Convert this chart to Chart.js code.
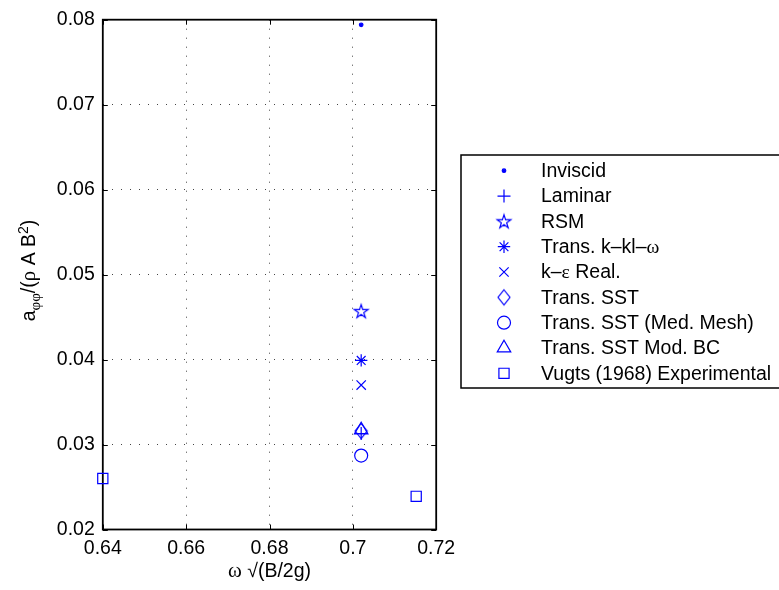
<!DOCTYPE html>
<html>
<head>
<meta charset="utf-8">
<script src="https://cdn.jsdelivr.net/npm/chart.js@4/dist/chart.umd.min.js"></script>
<style>
  html, body { margin: 0; padding: 0; background: #fff; }
  #wrap { width: 779px; height: 590px; }
</style>
</head>
<body>
<div id="wrap"><canvas id="c" width="779" height="590"></canvas></div>
<script>
// ---------------- DATA ----------------
const seriesNames = ['Inviscid', 'Laminar', 'RSM', 'Trans. k\u2013kl\u2013\u03c9', 'k\u2013\u03b5 Real.',
  'Trans. SST', 'Trans. SST (Med. Mesh)', 'Trans. SST Mod. BC', 'Vugts (1968) Experimental'];

const inviscidX = [0.702];  const inviscidY = [0.0794];
const laminarX  = [0.702];  const laminarY  = [0.0313];
const rsmX      = [0.702];  const rsmY      = [0.0457];
const kklwX     = [0.702];  const kklwY     = [0.0399];
const kepsX     = [0.702];  const kepsY     = [0.0370];
const sstX      = [0.702];  const sstY      = [0.0316];
const sstMedX   = [0.702];  const sstMedY   = [0.0287];
const sstModX   = [0.702];  const sstModY   = [0.0317];
const vugtsX    = [0.640, 0.7152]; const vugtsY = [0.0260, 0.0239];

const xTickValues = [0.64, 0.66, 0.68, 0.70, 0.72];
const xTickLabels = ['0.64', '0.66', '0.68', '0.7', '0.72'];
const yTickValues = [0.02, 0.03, 0.04, 0.05, 0.06, 0.07, 0.08];
const yTickLabels = ['0.02', '0.03', '0.04', '0.05', '0.06', '0.07', '0.08'];

// ---------------- STYLE ----------------
const BLUE = '#0000ff';
const FONT = "'Liberation Sans', Arial, sans-serif";
const SERIF = "'Liberation Serif', 'DejaVu Serif', serif";
const FS = 19.5;

function makeStar() {
  const c = document.createElement('canvas'); c.width = 18; c.height = 18;
  const g = c.getContext('2d');
  const cx = 9, cy = 9.6, R = 7.2, r = R * 0.382;
  g.beginPath();
  for (let i = 0; i < 10; i++) {
    const ang = -Math.PI / 2 + i * Math.PI / 5;
    const rr = i % 2 === 0 ? R : r;
    const px = cx + rr * Math.cos(ang), py = cy + rr * Math.sin(ang);
    i === 0 ? g.moveTo(px, py) : g.lineTo(px, py);
  }
  g.closePath(); g.strokeStyle = BLUE; g.lineWidth = 1.2; g.stroke();
  return c;
}
function makeDiamond() {
  const c = document.createElement('canvas'); c.width = 16; c.height = 20;
  const g = c.getContext('2d');
  g.beginPath();
  g.moveTo(8, 2.5); g.lineTo(14, 10); g.lineTo(8, 17.5); g.lineTo(2, 10); g.closePath();
  g.strokeStyle = BLUE; g.lineWidth = 1.2; g.stroke();
  return c;
}
const starImg = makeStar();
const diamondImg = makeDiamond();

function pts(xs, ys) { return xs.map((x, i) => ({ x: x, y: ys[i] })); }

const markerStyles = [
  { pointStyle: 'circle',   radius: 1.8, fill: BLUE },
  { pointStyle: 'cross',    radius: 6.5, fill: 'rgba(0,0,0,0)' },
  { pointStyle: starImg,    radius: 7,   fill: 'rgba(0,0,0,0)' },
  { pointStyle: 'star',     radius: 6.2, fill: 'rgba(0,0,0,0)' },
  { pointStyle: 'crossRot', radius: 6.6, fill: 'rgba(0,0,0,0)' },
  { pointStyle: diamondImg, radius: 7,   fill: 'rgba(0,0,0,0)' },
  { pointStyle: 'circle',   radius: 6.5, fill: 'rgba(0,0,0,0)' },
  { pointStyle: 'triangle', radius: 7.8, fill: 'rgba(0,0,0,0)' },
  { pointStyle: 'rect',     radius: 7.2, fill: 'rgba(0,0,0,0)' }
];
const seriesData = [
  pts(inviscidX, inviscidY), pts(laminarX, laminarY), pts(rsmX, rsmY), pts(kklwX, kklwY),
  pts(kepsX, kepsY), pts(sstX, sstY), pts(sstMedX, sstMedY), pts(sstModX, sstModY), pts(vugtsX, vugtsY)
];

const datasets = seriesNames.map((name, i) => ({
  label: name,
  data: seriesData[i],
  pointStyle: markerStyles[i].pointStyle,
  pointRadius: markerStyles[i].radius,
  pointHoverRadius: markerStyles[i].radius,
  pointBorderWidth: 1.2,
  pointBorderColor: BLUE,
  pointBackgroundColor: markerStyles[i].fill,
  showLine: false,
  clip: false
}));

// ---------------- HELPERS ----------------
function drawMixed(ctx, text, x, y, size) {
  const runs = [];
  for (const ch of text) {
    const greek = /[\u0370-\u03ff]/.test(ch);
    if (runs.length && runs[runs.length - 1].greek === greek) runs[runs.length - 1].t += ch;
    else runs.push({ t: ch, greek: greek });
  }
  for (const r of runs) {
    ctx.font = size + 'px ' + (r.greek ? SERIF : FONT);
    ctx.fillText(r.t, x, y);
    x += ctx.measureText(r.t).width;
  }
  return x;
}

const decorPlugin = {
  id: 'decor',
  beforeDatasetsDraw(chart) {
    const ctx = chart.ctx, a = chart.chartArea;
    const xs = chart.scales.x, ys = chart.scales.y;
    ctx.save();
    ctx.strokeStyle = '#000'; ctx.lineWidth = 1;
    ctx.beginPath();
    xTickValues.forEach(v => {
      const px = Math.round(xs.getPixelForValue(v)) + 0.5;
      ctx.moveTo(px, a.bottom); ctx.lineTo(px, a.bottom - 5);
      ctx.moveTo(px, a.top); ctx.lineTo(px, a.top + 5);
    });
    yTickValues.forEach(v => {
      const py = Math.round(ys.getPixelForValue(v)) + 0.5;
      ctx.moveTo(a.left, py); ctx.lineTo(a.left + 5, py);
      ctx.moveTo(a.right, py); ctx.lineTo(a.right - 5, py);
    });
    ctx.stroke();
    ctx.lineWidth = 1.8;
    ctx.strokeRect(a.left, a.top, a.right - a.left, a.bottom - a.top);
    ctx.restore();
  },
  afterDraw(chart) {
    const ctx = chart.ctx, a = chart.chartArea;
    ctx.save();
    ctx.fillStyle = '#000';
    ctx.textBaseline = 'alphabetic';
    // x title
    const xParts = [{ t: '\u03c9', f: SERIF, s: 21 }, { t: ' \u221a(B/2g)', f: FONT, s: FS }];
    let w = 0;
    xParts.forEach(p => { ctx.font = p.s + 'px ' + p.f; w += ctx.measureText(p.t).width; });
    let x = (a.left + a.right) / 2 - w / 2;
    xParts.forEach(p => { ctx.font = p.s + 'px ' + p.f; ctx.fillText(p.t, x, 577); x += ctx.measureText(p.t).width; });

    // y title (rotated)
    const SUB = 15;
    const yParts = [
      { t: 'a', f: FONT, s: FS, dy: 0 },
      { t: '\u03c6\u03c6', f: SERIF, s: SUB, dy: 4.5 },
      { t: '/(', f: FONT, s: FS, dy: 0 },
      { t: '\u03c1', f: SERIF, s: 21, dy: 0 },
      { t: ' A B', f: FONT, s: FS, dy: 0 },
      { t: '2', f: FONT, s: 14, dy: -7 },
      { t: ')', f: FONT, s: FS, dy: 0 }
    ];
    let tw = 0;
    yParts.forEach(p => { ctx.font = p.s + 'px ' + p.f; tw += ctx.measureText(p.t).width; });
    ctx.save();
    ctx.translate(35, 270.5);
    ctx.rotate(-Math.PI / 2);
    let tx = -tw / 2;
    yParts.forEach(p => { ctx.font = p.s + 'px ' + p.f; ctx.fillText(p.t, tx, p.dy); tx += ctx.measureText(p.t).width; });
    ctx.restore();

    // legend
    const L = 461, T = 155, B = 388;
    ctx.fillStyle = '#fff';
    ctx.fillRect(L, T, 779 - L + 10, B - T);
    ctx.strokeStyle = '#000'; ctx.lineWidth = 1.5;
    ctx.strokeRect(L, T, 779 - L + 20, B - T);
    ctx.textBaseline = 'middle';
    seriesNames.forEach((name, i) => {
      const yy = 170.7 + i * 25.33;
      const ms = markerStyles[i];
      ctx.save();
      ctx.strokeStyle = BLUE; ctx.fillStyle = ms.fill; ctx.lineWidth = 1.2;
      Chart.helpers.drawPoint(ctx, { pointStyle: ms.pointStyle, radius: ms.radius, rotation: 0, borderWidth: 1.2 }, 504, yy);
      ctx.restore();
      ctx.fillStyle = '#000';
      drawMixed(ctx, name, 541, yy + 1, FS);
    });
    ctx.restore();
  }
};

new Chart(document.getElementById('c'), {
  type: 'scatter',
  data: { datasets: datasets },
  plugins: [decorPlugin],
  options: {
    responsive: false,
    animation: false,
    events: [],
    layout: { padding: { top: 13.7, right: 342.8, bottom: 0, left: 0 } },
    plugins: { legend: { display: false }, tooltip: { enabled: false } },
    scales: {
      x: {
        type: 'linear', min: 0.64, max: 0.72,
        afterBuildTicks: s => { s.ticks = xTickValues.map(v => ({ value: v })); },
        afterFit: s => { s.height = 60.5; },
        ticks: { callback: (v, i) => xTickLabels[i], color: '#000', padding: 7, maxRotation: 0,
                 font: { family: FONT, size: FS } },
        grid: { color: '#444', lineWidth: 1, drawTicks: false },
        border: { display: false, dash: [1, 8] }
      },
      y: {
        type: 'linear', min: 0.02, max: 0.08,
        afterBuildTicks: s => { s.ticks = yTickValues.map(v => ({ value: v })); },
        afterFit: s => { s.width = 102.8; },
        ticks: { callback: (v, i) => yTickLabels[i], color: '#000', padding: 8,
                 font: { family: FONT, size: FS } },
        grid: { color: '#444', lineWidth: 1, drawTicks: false },
        border: { display: false, dash: [1, 8] }
      }
    }
  }
});
</script>
</body>
</html>
